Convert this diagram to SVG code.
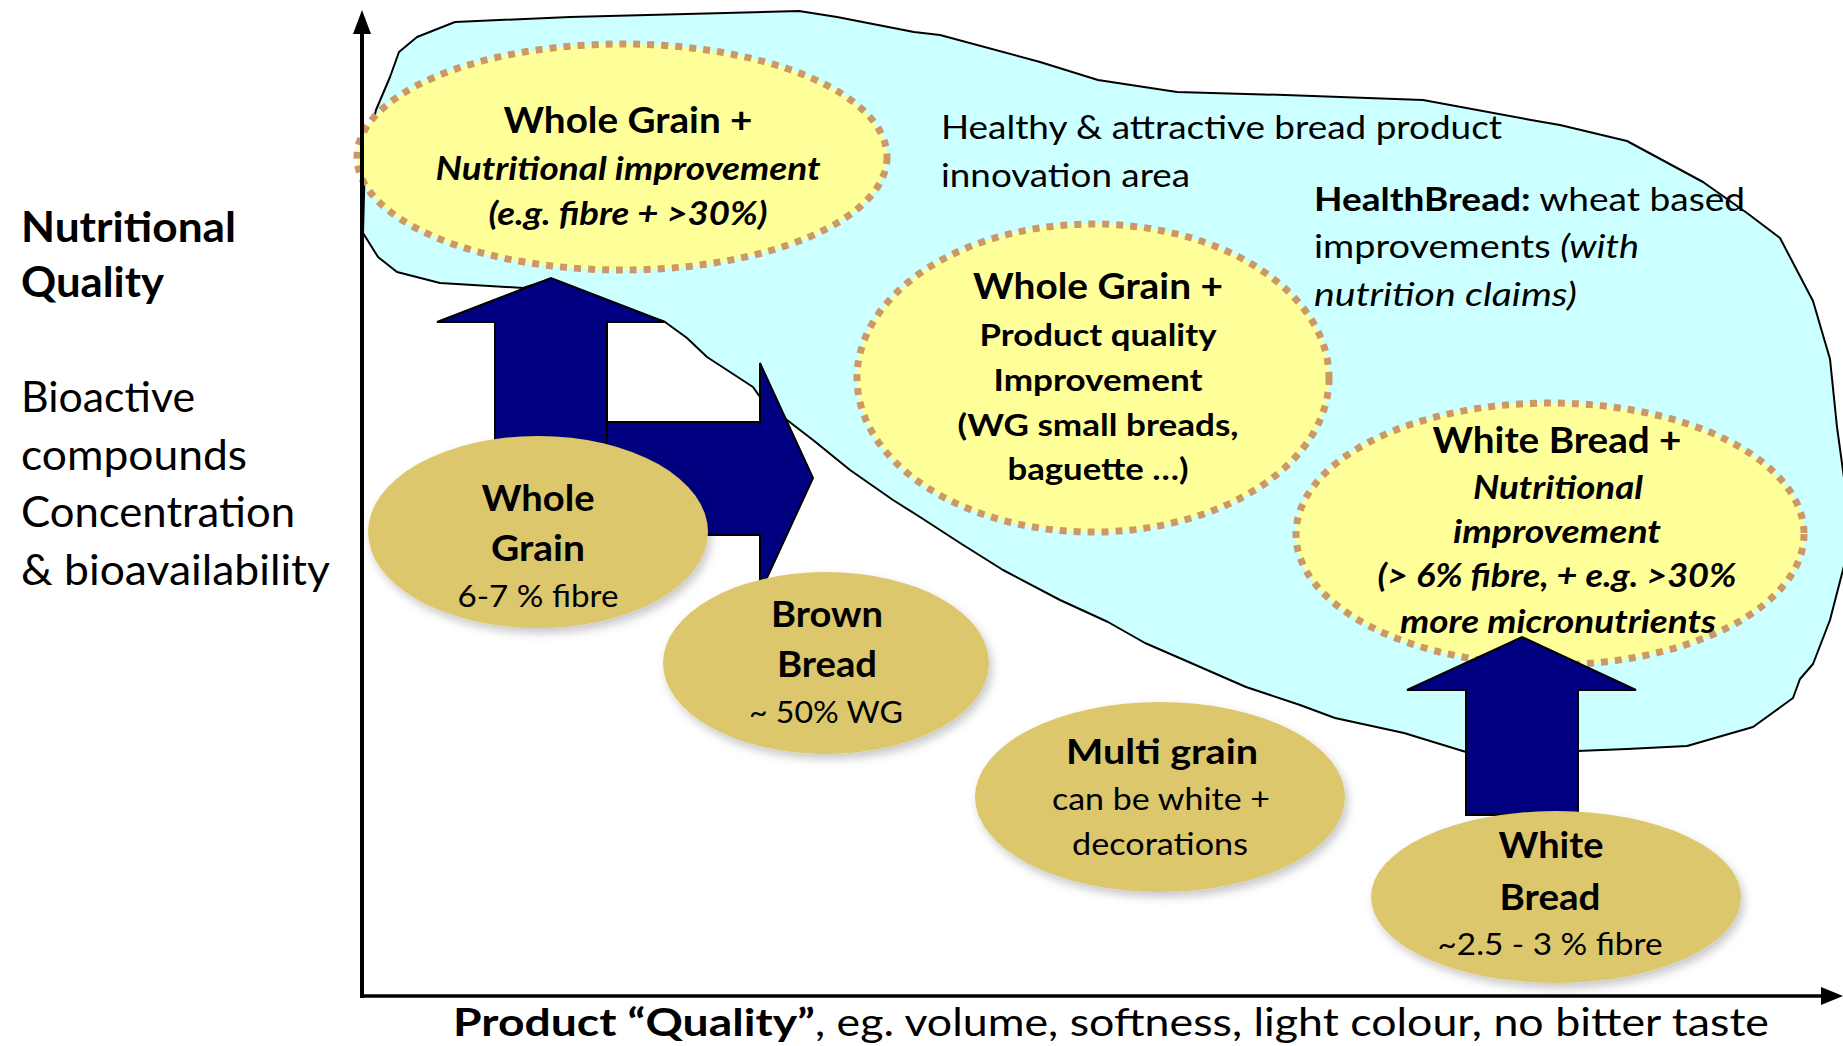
<svg xmlns="http://www.w3.org/2000/svg" width="1843" height="1046" viewBox="0 0 1843 1046">
<defs>
<style>
text{font-family:Lato,"Liberation Sans",sans-serif;fill:#000}
.b{font-weight:bold}
.i{font-style:italic}
.bi{font-weight:bold;font-style:italic}
.c{text-anchor:middle}
.yel{fill:#FFFF99;stroke:#CC9966;stroke-width:7;stroke-dasharray:7 7}
.gold{fill:#DCC76C;filter:url(#sh)}
.navy{fill:#000080;stroke:#000;stroke-width:2;stroke-linejoin:miter}
.ax{stroke:#000;fill:none}
</style>
<filter id="sh" x="-20%" y="-20%" width="140%" height="150%">
<feDropShadow dx="3" dy="5" stdDeviation="5" flood-color="#000" flood-opacity="0.22"/>
</filter>
</defs>
<rect width="1843" height="1046" fill="#fff"/>

<g id="innovation-area">
<path fill="#CCFFFF" stroke="#000" stroke-width="2" stroke-linejoin="round" d="M399,52 L417,37 L455,22 L570,17 L799,11 L837,17 L914,32 L940,35 L1040,62 L1098,80 L1177,92 L1285,95 L1423,100 L1531,120 L1560,125 L1627,141 L1703,182 L1747,213 L1780,238 L1813,301 L1830,359 L1837,427 L1845,485 L1845,562 L1830,620 L1813,664 L1800,679 L1793,698 L1753,727 L1687,746 L1627,749 L1577,751 L1466,752 L1404,733 L1335,718 L1300,705 L1246,687 L1191,663 L1145,643 L1108,622 L1060,600 L1003,570 L960,543 L920,517 L893,500 L850,470 L813,440 L787,420 L760,397 L753,387 L707,357 L687,338 L665,322 L600,300 L551,279 L523,288 L440,283 L397,272 L378,257 L363,233 L365,157 L376,110 L390,77 Z"/>
<text x="941" y="139" font-size="32" textLength="561" lengthAdjust="spacingAndGlyphs">Healthy &amp; attractive bread product</text>
<text x="941" y="187" font-size="32" textLength="249" lengthAdjust="spacingAndGlyphs">innovation area</text>
<text x="1314" y="211" font-size="33" textLength="431" lengthAdjust="spacingAndGlyphs"><tspan class="b">HealthBread:</tspan> wheat based</text>
<text x="1314" y="258" font-size="33" textLength="325" lengthAdjust="spacingAndGlyphs">improvements <tspan class="i">(with</tspan></text>
<text x="1314" y="306" font-size="33" class="i" textLength="263" lengthAdjust="spacingAndGlyphs">nutrition claims)</text>
</g>

<g id="wg-nutritional">
<ellipse class="yel" cx="622" cy="157" rx="265" ry="113"/>
<text class="b c" x="628" y="133" font-size="36" textLength="249" lengthAdjust="spacingAndGlyphs">Whole Grain +</text>
<text class="bi c" x="628" y="180" font-size="32" textLength="385" lengthAdjust="spacingAndGlyphs">Nutritional improvement</text>
<text class="bi c" x="628" y="225" font-size="32" textLength="279" lengthAdjust="spacingAndGlyphs">(e.g. fibre + &gt;30%)</text>
</g>

<g id="wg-quality">
<ellipse class="yel" cx="1093" cy="378" rx="236" ry="154"/>
<text class="b c" x="1098" y="299" font-size="36" textLength="250" lengthAdjust="spacingAndGlyphs">Whole Grain +</text>
<text class="b c" x="1098" y="346" font-size="31" textLength="237" lengthAdjust="spacingAndGlyphs">Product quality</text>
<text class="b c" x="1098" y="391" font-size="31" textLength="209" lengthAdjust="spacingAndGlyphs">Improvement</text>
<text class="b c" x="1098" y="436" font-size="31" textLength="281" lengthAdjust="spacingAndGlyphs">(WG small breads,</text>
<text class="b c" x="1098" y="480" font-size="31" textLength="181" lengthAdjust="spacingAndGlyphs">baguette …)</text>
</g>

<g id="wb-nutritional">
<ellipse class="yel" cx="1550" cy="534" rx="254" ry="131"/>
<text class="b c" x="1557" y="453" font-size="36" textLength="249" lengthAdjust="spacingAndGlyphs">White Bread +</text>
<text class="bi c" x="1558" y="499" font-size="32" textLength="170" lengthAdjust="spacingAndGlyphs">Nutritional</text>
<text class="bi c" x="1557" y="543" font-size="32" textLength="208" lengthAdjust="spacingAndGlyphs">improvement</text>
<text class="bi c" x="1557" y="587" font-size="32" textLength="359" lengthAdjust="spacingAndGlyphs">(&gt; 6% fibre, + e.g. &gt;30%</text>
<text class="bi c" x="1558" y="633" font-size="32" textLength="316" lengthAdjust="spacingAndGlyphs">more micronutrients</text>
</g>

<g id="connectors">
<polygon class="navy" points="500,422 760,422 760,363 813,478 760,593 760,535 500,535"/>
<polygon class="navy" points="495,470 495,322 437,322 551,278 665,322 607,322 607,470"/>
<polygon class="navy" points="1466,815 1466,690 1407,690 1522,637 1636,690 1578,690 1578,815"/>
</g>

<g id="whole-grain">
<ellipse class="gold" cx="538" cy="532" rx="170" ry="96"/>
<text class="b c" x="538" y="511" font-size="37" textLength="113" lengthAdjust="spacingAndGlyphs">Whole</text>
<text class="b c" x="538" y="561" font-size="37" textLength="94" lengthAdjust="spacingAndGlyphs">Grain</text>
<text class="c" x="538" y="607" font-size="30" textLength="161" lengthAdjust="spacingAndGlyphs">6-7 % fibre</text>
</g>

<g id="brown-bread">
<ellipse class="gold" cx="826" cy="663" rx="163" ry="91"/>
<text class="b c" x="827" y="627" font-size="37" textLength="112" lengthAdjust="spacingAndGlyphs">Brown</text>
<text class="b c" x="827" y="677" font-size="37" textLength="100" lengthAdjust="spacingAndGlyphs">Bread</text>
<text class="c" x="826" y="723" font-size="30" textLength="154" lengthAdjust="spacingAndGlyphs">~ 50% WG</text>
</g>

<g id="multi-grain">
<ellipse class="gold" cx="1160" cy="797" rx="185" ry="95"/>
<text class="b c" x="1162" y="764" font-size="35" textLength="192" lengthAdjust="spacingAndGlyphs">Multi grain</text>
<text class="c" x="1161" y="810" font-size="30" textLength="218" lengthAdjust="spacingAndGlyphs">can be white +</text>
<text class="c" x="1160" y="855" font-size="30" textLength="176" lengthAdjust="spacingAndGlyphs">decorations</text>
</g>

<g id="white-bread">
<ellipse class="gold" cx="1556" cy="897" rx="185" ry="86"/>
<text class="b c" x="1551" y="858" font-size="37" textLength="105" lengthAdjust="spacingAndGlyphs">White</text>
<text class="b c" x="1550" y="910" font-size="37" textLength="101" lengthAdjust="spacingAndGlyphs">Bread</text>
<text class="c" x="1550" y="955" font-size="30" textLength="225" lengthAdjust="spacingAndGlyphs">~2.5 - 3 % fibre</text>
</g>

<g id="axes">
<line class="ax" x1="362" y1="998" x2="362" y2="30" stroke-width="4"/>
<polygon points="362,10 353,34 371,34" fill="#000"/>
<line class="ax" x1="360" y1="996" x2="1825" y2="996" stroke-width="3.5"/>
<polygon points="1843,996 1821,987 1821,1005" fill="#000"/>
</g>

<g id="y-axis-label">
<text class="b" x="21" y="242" font-size="42" textLength="215" lengthAdjust="spacingAndGlyphs">Nutritional</text>
<text class="b" x="21" y="297" font-size="42" textLength="143" lengthAdjust="spacingAndGlyphs">Quality</text>
<text x="21" y="412" font-size="42" textLength="174" lengthAdjust="spacingAndGlyphs">Bioactive</text>
<text x="21" y="470" font-size="42" textLength="226" lengthAdjust="spacingAndGlyphs">compounds</text>
<text x="21" y="527" font-size="42" textLength="274" lengthAdjust="spacingAndGlyphs">Concentration</text>
<text x="21" y="585" font-size="42" textLength="309" lengthAdjust="spacingAndGlyphs">&amp; bioavailability</text>
</g>

<g id="x-axis-label">
<text class="b" x="453" y="1036" font-size="38" textLength="362" lengthAdjust="spacingAndGlyphs">Product “Quality”</text>
<text x="815" y="1036" font-size="38" textLength="954" lengthAdjust="spacingAndGlyphs">, eg. volume, softness, light colour, no bitter taste</text>
</g>
</svg>
